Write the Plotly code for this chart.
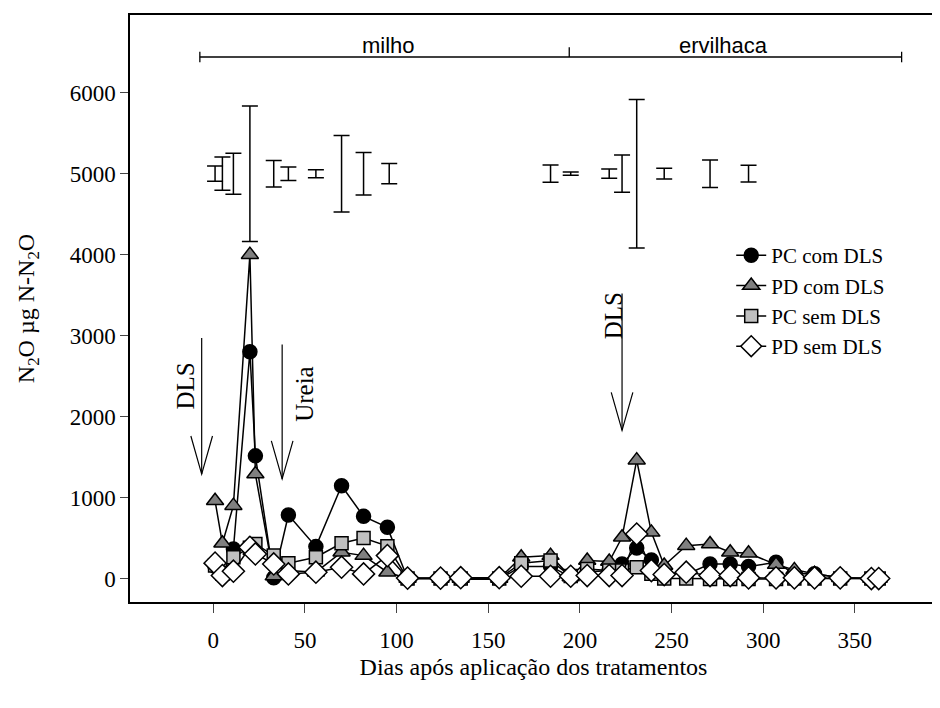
import plotly.graph_objects as go

# ---------------- data ----------------
days = [1, 5, 11, 20, 23, 33, 41, 56, 70, 82, 95, 106, 124, 135, 156, 168, 184,
        195, 204, 216, 223, 231, 239, 246, 258, 271, 282, 292, 307, 317, 328, 342, 359, 363]
pc_com_dls = [150, 50, 365, 2800, 1515, 10, 784, 394, 1145, 768, 632, 0, 0, -10, -10, 150, 150,
              20, 80, 100, 180, 378, 230, 80, 50, 180, 180, 148, 200, 60, 60, 10, 0, 0]
pd_com_dls = [960, 435, 900, 4000, 1290, 30, 100, 78, 325, 283, 78, 0, 0, 0, 0, 262, 283,
              20, 222, 210, 509, 1462, 570, 160, 406, 427, 324, 312, 172, 107, 60, 10, 0, 0]
pc_sem_dls = [160, 60, 262, 380, 427, 283, 189, 263, 435, 500, 400, 0, 0, 0, 0, 189, 222,
              30, 119, 100, 100, 140, 60, 0, 0, -5, -5, -5, -5, 0, 0, 0, 0, 0]
pd_sem_dls = [190, 37, 90, 385, 304, 180, 57, 78, 140, 57, 283, 5, 5, 10, 10, 28, 28,
              28, 37, 37, 37, 550, 98, 49, 78, 37, 37, 8, 8, 8, 8, 8, 0, 0]

# least-significant-difference style bars drawn at y = 5000
lsd_days = [1, 5, 11, 20, 33, 41, 56, 70, 82, 96, 184, 195, 216, 223, 231, 246, 271, 292]
lsd_half = [94, 205, 254, 837, 164, 84, 49, 472, 262, 125, 107, 20, 57, 230, 917, 66, 170, 103]
lsd_center = 5000

series_names = ["PC com DLS", "PD com DLS", "PC sem DLS", "PD sem DLS"]
x_ticks = [0, 50, 100, 150, 200, 250, 300, 350]
y_ticks = [0, 1000, 2000, 3000, 4000, 5000, 6000]

SERIF = "Liberation Serif, Times New Roman, serif"
SANS = "Liberation Sans, Arial, sans-serif"

styles = [
    dict(symbol="circle", color="black", size=14),
    dict(symbol="triangle-up", color="#808080", size=15),
    dict(symbol="square", color="#c0c0c0", size=13),
    dict(symbol="diamond", color="white", size=17),
]
values = [pc_com_dls, pd_com_dls, pc_sem_dls, pd_sem_dls]

fig = go.Figure()

fig.add_trace(go.Scatter(
    x=lsd_days, y=[lsd_center] * len(lsd_days), mode="markers",
    marker=dict(size=1, color="rgba(0,0,0,0)"),
    error_y=dict(type="data", array=lsd_half, symmetric=True, color="black",
                 thickness=1.5, width=8),
    showlegend=False, hoverinfo="skip"))

for name, vals, st in zip(series_names, values, styles):
    fig.add_trace(go.Scatter(
        x=days, y=vals, mode="lines+markers", name=name,
        line=dict(color="black", width=1.5),
        marker=dict(symbol=st["symbol"], color=st["color"], size=st["size"],
                    line=dict(color="black", width=1.5))))

shapes = []
LW = dict(color="black", width=1.3)
# season bracket
br_y = 6441
shapes.append(dict(type="line", x0=-7.3, x1=375.5, y0=br_y, y1=br_y, line=LW))
shapes.append(dict(type="line", x0=-7.3, x1=-7.3, y0=br_y - 65, y1=br_y + 65, line=LW))
shapes.append(dict(type="line", x0=194.2, x1=194.2, y0=br_y, y1=br_y + 120, line=LW))
shapes.append(dict(type="line", x0=375.5, x1=375.5, y0=br_y - 65, y1=br_y + 65, line=LW))


def arrow(x, ytop, ytip, dx=5.9, dy=470):
    shapes.append(dict(type="line", x0=x, x1=x, y0=ytop, y1=ytip, line=dict(color="black", width=1.2)))
    shapes.append(dict(type="path",
                       path=f"M {x-dx},{ytip+dy} L {x},{ytip} L {x+dx},{ytip+dy}",
                       line=dict(color="black", width=1.2)))


arrow(-6.3, 2972, 1290)
arrow(37.6, 2890, 1230)
arrow(223, 3520, 1830)

annotations = [
    dict(x=95.5, y=6410, text="milho", showarrow=False, yanchor="bottom",
         font=dict(family=SANS, size=22, color="black")),
    dict(x=278.2, y=6410, text="ervilhaca", showarrow=False, yanchor="bottom",
         font=dict(family=SANS, size=22, color="black")),
    dict(x=-15, y=2380, text="DLS", showarrow=False, textangle=-90,
         font=dict(family=SERIF, size=25, color="black")),
    dict(x=50, y=2280, text="Ureia", showarrow=False, textangle=-90,
         font=dict(family=SERIF, size=25, color="black")),
    dict(x=218, y=3250, text="DLS", showarrow=False, textangle=-90,
         font=dict(family=SERIF, size=25, color="black")),
]

# the page body adds an 8 px offset; margins compensate so the plot frame
# lands at x 130..937, y 13..602 of the window
fig.update_layout(
    width=940, height=708,
    margin=dict(l=122, r=11, t=5, b=114),
    paper_bgcolor="white", plot_bgcolor="white",
    font=dict(family=SERIF, size=22, color="black"),
    shapes=shapes, annotations=annotations,
    legend=dict(x=0.745, y=0.625, xanchor="left", yanchor="top",
                bgcolor="rgba(0,0,0,0)", font=dict(family=SERIF, size=21),
                tracegroupgap=0),
    xaxis=dict(range=[-45.4, 394.8], tickvals=x_ticks, ticks="outside", ticklen=9,
               tickwidth=1.3, showgrid=False, zeroline=False, showline=True,
               linecolor="black", linewidth=1.5, mirror=True,
               tickfont=dict(family=SERIF, size=23), ticklabelstandoff=8,
               title=dict(text="Dias após aplicação dos tratamentos",
                          font=dict(family=SERIF, size=24), standoff=6)),
    yaxis=dict(range=[-290, 6960], tickvals=y_ticks, ticks="outside", ticklen=8,
               tickwidth=1.3, showgrid=False, zeroline=False, showline=True,
               linecolor="black", linewidth=1.5, mirror=True,
               tickfont=dict(family=SERIF, size=23),
               title=dict(text="N<sub>2</sub>O µg N-N<sub>2</sub>O",
                          font=dict(family=SERIF, size=24), standoff=28)),
)

fig.write_html("out.html")
